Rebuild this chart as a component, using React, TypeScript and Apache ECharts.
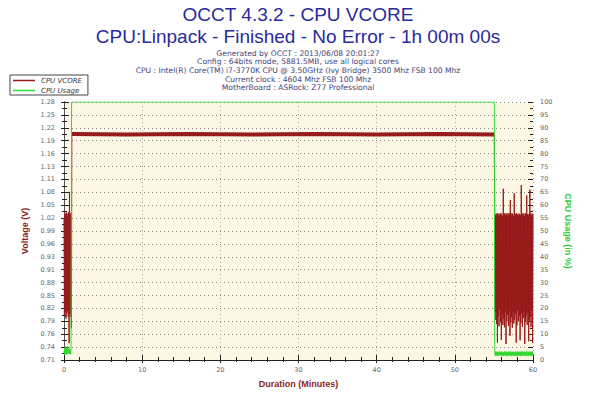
import React, { useEffect, useRef } from "react";
import * as echarts from "echarts";

const titleLines = ["OCCT 4.3.2 - CPU VCORE", "CPU:Linpack - Finished - No Error - 1h 00m 00s"];
const infoLines = [
  "Generated by OCCT : 2013/06/08 20:01:27",
  "Config : 64bits mode, 5881.5MB, use all logical cores",
  "CPU : Intel(R) Core(TM) i7-3770K CPU @ 3.50GHz (Ivy Bridge) 3500 Mhz FSB 100 Mhz",
  "Current clock : 4604 Mhz FSB 100 Mhz",
  "MotherBoard : ASRock: Z77 Professional",
];
const seriesNames = ["CPU VCORE", "CPU Usage"];

// Left axis tick values (labels shown with 2 decimals)
const voltageTicks = [
  0.7066, 0.7351, 0.7636, 0.7921, 0.8206, 0.8491, 0.8776, 0.9061, 0.9346, 0.9631, 0.9916,
  1.0201, 1.0486, 1.0771, 1.1056, 1.1341, 1.1626, 1.1911, 1.2196, 1.2481, 1.2766,
];
const usageMin = 0;
const usageMax = 100;
const usageStep = 5;
const minuteMin = 0;
const minuteMax = 60;
const minuteStep = 10;

// VCORE samples (minutes, volts)
const sampleStep = 0.05;
const vcoreStartT0 = 0;
const vcoreStartValues = [
  1.02, 0.805, 1.031, 0.812, 1.028, 0.798, 1.033, 0.808, 1.025, 0.815,
  1.03, 0.801, 1.034, 0.744, 1.078, 0.81, 1.029, 0.803, 1.031, 0.777,
];
const vcorePlateau: [number, number][] = [
  [1.0, 1.206], [8, 1.205], [16, 1.206], [24, 1.205], [32, 1.206], [40, 1.205], [48, 1.206], [55.05, 1.205],
];
const vcoreEndT0 = 55.1;
const vcoreEndValues = [
  1.031, 0.812, 1.027, 0.795, 1.03, 0.786, 1.024, 0.745, 1.031, 0.803,
  1.029, 0.781, 1.026, 0.818, 1.031, 0.79, 1.028, 0.751, 1.03, 0.808,
  1.025, 0.784, 1.085, 0.797, 1.029, 0.779, 1.031, 0.811, 1.027, 0.742,
  1.03, 0.793, 1.024, 0.806, 1.031, 0.782, 1.028, 0.815, 1.03, 0.76,
  1.06, 0.789, 1.026, 0.801, 1.031, 0.778, 1.029, 0.813, 1.025, 0.787,
  1.075, 0.796, 1.03, 0.809, 1.027, 0.745, 1.031, 0.783, 1.028, 0.817,
  1.024, 0.792, 1.03, 0.804, 1.029, 0.75, 1.026, 0.788, 1.093, 0.81,
  1.031, 0.78, 1.027, 0.799, 1.03, 0.814, 1.025, 0.742, 1.031, 0.791,
  1.028, 0.805, 1.07, 0.784, 1.029, 0.812, 1.026, 0.748, 1.03, 0.794,
  1.083, 0.802, 1.031, 0.779, 1.027, 0.816, 1.03, 0.745, 1.028,
];

// CPU usage samples (minutes, %)
const usageStartT0 = 0;
const usageStartValues = [
  3.5, 2.2, 4.8, 2.5, 5.2, 3.0, 2.1, 4.5, 2.8, 5.4, 2.3, 3.9, 2.6, 5.0, 2.4, 4.2, 3.1, 2.2, 4.6,
];
const usageLoad: [number, number][] = [[0.97, 100], [55.05, 100]];
const usageEndT0 = 55.1;
const usageEndValues = [
  5.5, 1.8, 3.2, 1.6, 3.0, 2.0, 3.3, 1.5, 2.9, 2.2,
  3.1, 1.7, 3.4, 1.9, 2.8, 1.6, 3.2, 2.1, 3.0, 1.5,
  3.3, 1.8, 2.9, 1.6, 3.1, 2.0, 3.4, 1.7, 2.8, 1.9,
  3.2, 1.5, 3.0, 2.1, 3.3, 1.6, 2.9, 1.8, 3.1, 1.7,
  3.4, 2.0, 2.8, 1.5, 3.2, 1.9, 3.0, 1.6, 3.3, 2.2,
  2.9, 1.7, 3.1, 1.8, 3.4, 1.5, 2.8, 2.0, 3.2, 1.6,
  3.0, 1.9, 3.3, 1.7, 2.9, 2.1, 3.1, 1.5, 3.4, 1.8,
  2.8, 1.6, 3.2, 2.0, 3.0, 1.7, 3.3, 1.9, 2.9, 1.5,
  3.1, 2.2, 3.4, 1.6, 2.8, 1.8, 3.2, 1.7, 3.0, 2.0,
  3.3, 1.5, 2.9, 1.9, 3.1, 1.6, 3.4, 1.8, 3.0,
];

const withTimes = (t0: number, values: number[]): [number, number][] =>
  values.map((v, i) => [+(t0 + i * sampleStep).toFixed(2), v]);

const RED = "#971b1b";
const GREEN = "#2fd82f";
const SMALL_FONT = "DejaVu Sans";

export default function App() {
  const ref = useRef<HTMLDivElement>(null);
  useEffect(() => {
    if (!ref.current) return;
    const chart = echarts.init(ref.current, undefined, { renderer: "svg" });
    const vcoreAll = [
      ...withTimes(vcoreStartT0, vcoreStartValues),
      ...vcorePlateau,
      ...withTimes(vcoreEndT0, vcoreEndValues),
    ];
    const usageAll = [
      ...withTimes(usageStartT0, usageStartValues),
      ...usageLoad,
      ...withTimes(usageEndT0, usageEndValues),
    ];
    const tickLabel = { fontSize: 6.5, color: "#666", fontFamily: SMALL_FONT };
    const helperY = (position: string, inside: boolean) => ({
      type: "value",
      position,
      min: usageMin,
      max: usageMax,
      interval: usageStep,
      axisLine: { show: false },
      axisLabel: { show: false },
      splitLine: { show: false },
      axisTick: { show: true, inside, length: inside ? 5 : 3, lineStyle: { color: "#222" } },
      minorTick: { show: true, splitNumber: 2, length: inside ? 3 : 2, lineStyle: { color: "#222" } },
    });
    chart.setOption({
      animation: false,
      backgroundColor: "#fff",
      title: [
        {
          text: titleLines[0], left: "center", top: 0,
          textStyle: { fontSize: 19, fontWeight: "normal", color: "#2a2a9c", fontFamily: "Liberation Sans" },
        },
        {
          text: titleLines[1], left: "center", top: 22,
          textStyle: { fontSize: 19, fontWeight: "normal", color: "#2a2a9c", fontFamily: "Liberation Sans" },
        },
        ...infoLines.map((line, i) => ({
          text: line, left: "center", top: 49 + i * 8.7, padding: 0,
          textStyle: { fontSize: 7.6, fontWeight: "normal", color: "#444477", fontFamily: SMALL_FONT },
        })),
      ],
      legend: {
        orient: "vertical",
        left: 10,
        top: 75,
        data: [
          { name: seriesNames[0], icon: "rect", itemStyle: { color: RED } },
          { name: seriesNames[1], icon: "rect", itemStyle: { color: GREEN } },
        ],
        itemWidth: 22,
        itemHeight: 1.5,
        itemGap: 3,
        padding: [2, 6, 1, 3],
        backgroundColor: "#fff",
        borderColor: "#444",
        borderWidth: 1,
        borderRadius: 0,
        textStyle: { fontSize: 7, fontStyle: "italic", color: "#333", fontFamily: SMALL_FONT, padding: [0, 0, 0, 1] },
      },
      grid: {
        left: 64, right: 63, top: 102, bottom: 37,
        show: true, backgroundColor: "#fdf7e5", borderWidth: 0,
      },
      xAxis: [
        {
          type: "value", min: minuteMin, max: minuteMax, interval: minuteStep,
          name: "Duration (Minutes)", nameLocation: "middle", nameGap: 19,
          nameTextStyle: { fontSize: 9, fontWeight: "bold", color: "#8b2525", fontFamily: "Liberation Sans" },
          axisLine: { show: true, lineStyle: { color: "#222" } },
          axisTick: { show: true, length: 3, lineStyle: { color: "#222" } },
          minorTick: { show: true, splitNumber: 5, length: 2, lineStyle: { color: "#222" } },
          axisLabel: { ...tickLabel, margin: 6 },
          splitLine: { show: true, lineStyle: { color: "#aaa", type: [1, 3] } },
        },
        {
          type: "value", position: "bottom", min: minuteMin, max: minuteMax, interval: minuteStep,
          axisLine: { show: false }, axisLabel: { show: false }, splitLine: { show: false },
          axisTick: { show: true, inside: true, length: 5, lineStyle: { color: "#222" } },
          minorTick: { show: true, splitNumber: 5, length: 3, lineStyle: { color: "#222" } },
        },
      ],
      yAxis: [
        {
          type: "value", position: "left",
          min: voltageTicks[0], max: voltageTicks[voltageTicks.length - 1],
          name: "Voltage (V)", nameLocation: "middle", nameGap: 15,
          nameTextStyle: { fontSize: 9, fontWeight: "bold", color: "#8b2525", fontFamily: "Liberation Sans" },
          axisLine: { show: true, lineStyle: { color: "#222" } },
          axisTick: { show: false },
          splitLine: { show: false },
          axisLabel: {
            ...tickLabel, margin: 9, customValues: voltageTicks,
            formatter: (v: number) => v.toFixed(2),
          },
        },
        {
          type: "value", position: "right", min: usageMin, max: usageMax, interval: usageStep,
          name: "CPU Usage (in %)", nameLocation: "middle", nameGap: 20, nameRotate: -90,
          nameTextStyle: { fontSize: 9, fontWeight: "bold", color: "#33cc33", fontFamily: "Liberation Sans" },
          axisLine: { show: true, lineStyle: { color: "#555" } },
          axisTick: { show: true, length: 3, lineStyle: { color: "#222" } },
          minorTick: { show: true, splitNumber: 2, length: 2, lineStyle: { color: "#222" } },
          axisLabel: { ...tickLabel, margin: 7 },
          splitLine: { show: true, lineStyle: { color: "#888", type: [1, 3] } },
        },
        helperY("left", false),
        helperY("left", true),
        helperY("right", true),
      ],
      series: [
        {
          name: seriesNames[0], type: "line", xAxisIndex: 0, yAxisIndex: 0,
          data: vcoreAll, showSymbol: false, symbol: "none",
          lineStyle: { color: RED, width: 1 }, itemStyle: { color: RED },
        },
        {
          name: seriesNames[0], type: "line", xAxisIndex: 0, yAxisIndex: 0,
          data: vcorePlateau, showSymbol: false, symbol: "none",
          lineStyle: { color: RED, width: 4 }, itemStyle: { color: RED },
        },
        {
          name: seriesNames[1], type: "line", xAxisIndex: 0, yAxisIndex: 1,
          data: usageAll, showSymbol: false, symbol: "none",
          lineStyle: { color: GREEN, width: 1 }, itemStyle: { color: GREEN },
        },
      ],
    });
    return () => chart.dispose();
  }, []);
  return <div ref={ref} style={{ width: 596, height: 397, position: "absolute", left: 0, top: 0 }} />;
}
